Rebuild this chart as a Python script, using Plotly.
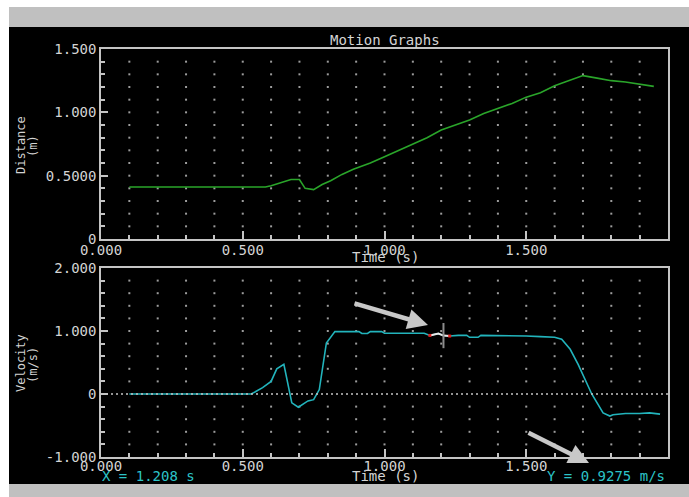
import numpy as np
import plotly.graph_objects as go

# ---- data -------------------------------------------------------------
dist_t = [0.10, 0.15, 0.20, 0.25, 0.30, 0.35, 0.40, 0.45, 0.50, 0.55, 0.58,
          0.60, 0.63, 0.67, 0.70, 0.72, 0.75, 0.78, 0.81, 0.85, 0.89, 0.95,
          1.00, 1.05, 1.10, 1.15, 1.20, 1.25, 1.30, 1.35, 1.40, 1.45, 1.50,
          1.55, 1.60, 1.65, 1.70, 1.75, 1.80, 1.85, 1.90, 1.95]
dist_m = [0.41, 0.41, 0.41, 0.41, 0.41, 0.41, 0.41, 0.41, 0.41, 0.41, 0.41,
          0.42, 0.44, 0.47, 0.47, 0.40, 0.39, 0.43, 0.46, 0.51, 0.55, 0.60,
          0.65, 0.70, 0.75, 0.80, 0.86, 0.90, 0.94, 0.99, 1.03, 1.07, 1.12,
          1.155, 1.21, 1.25, 1.29, 1.27, 1.25, 1.24, 1.22, 1.205]

vel_t = [0.10, 0.15, 0.20, 0.25, 0.30, 0.35, 0.40, 0.45, 0.50, 0.53,
         0.57, 0.60, 0.62, 0.645, 0.673, 0.696, 0.73, 0.75, 0.77, 0.795,
         0.825, 0.91, 0.92, 0.94, 0.95, 0.99, 1.00, 1.14, 1.16, 1.19,
         1.208, 1.23, 1.26, 1.29, 1.30, 1.33, 1.34, 1.38, 1.45, 1.50,
         1.55, 1.60, 1.625, 1.655, 1.683, 1.707, 1.731, 1.771, 1.795,
         1.806, 1.85, 1.90, 1.935, 1.972]
vel_ms = [0.0, 0.0, 0.0, 0.0, 0.0, 0.0, 0.0, 0.0, 0.0, 0.0,
          0.10, 0.20, 0.40, 0.47, -0.14, -0.21, -0.11, -0.09, 0.07, 0.81,
          0.99, 0.99, 0.96, 0.96, 0.99, 0.99, 0.965, 0.965, 0.93, 0.96,
          0.9275, 0.92, 0.93, 0.93, 0.90, 0.90, 0.93, 0.93, 0.92, 0.92,
          0.91, 0.90, 0.87, 0.71, 0.47, 0.23, 0.00, -0.30, -0.35,
          -0.33, -0.31, -0.31, -0.30, -0.32]

# cursor readout
cursor_t = 1.208
cursor_v = 0.9275

x_ticks = [0.0, 0.5, 1.0, 1.5, 2.0]
x_tick_labels = ["0.000", "0.500", "1.000", "1.500", "2.000"]
dist_ticks = [0.0, 0.5, 1.0, 1.5]
dist_tick_labels = ["0", "0.5000", "1.000", "1.500"]
vel_ticks = [-1.0, 0.0, 1.0, 2.0]
vel_tick_labels = ["-1.000", "0", "1.000", "2.000"]

# ---- geometry helpers (pixel -> paper fractions) ----------------------
W, H = 689, 497


def px(x):
    return x / W


def py(y):
    return 1 - y / H


FONT = "DejaVu Sans Mono"
FG = "#d4d4d4"
AXC = "#c4c4c4"
GREEN = "#2aa52a"
CYAN = "#22b4bc"
CYAN_TXT = "#2cc4c8"
GREY_BAR = "#c0c0c0"

fig = go.Figure()

# dotted grid points at every minor division
gx = np.round(np.arange(0.1, 1.95, 0.1), 3)
gy1 = np.round(np.arange(0.1, 1.45, 0.1), 3)
gy2 = np.round(np.concatenate([np.arange(-0.8, -0.05, 0.2), np.arange(0.2, 1.95, 0.2)]), 3)
X1, Y1 = np.meshgrid(gx, gy1)
X2, Y2 = np.meshgrid(gx, gy2)
dot_style = dict(symbol="square", size=2, color="#9c9c9c", line=dict(width=0))
fig.add_trace(go.Scatter(x=X1.ravel(), y=Y1.ravel(), mode="markers", marker=dot_style,
                         hoverinfo="skip", xaxis="x", yaxis="y"))
fig.add_trace(go.Scatter(x=X2.ravel(), y=Y2.ravel(), mode="markers", marker=dot_style,
                         hoverinfo="skip", xaxis="x2", yaxis="y2"))

# distance curve
fig.add_trace(go.Scatter(x=dist_t, y=dist_m, mode="lines",
                         line=dict(color=GREEN, width=1.6),
                         hoverinfo="skip", xaxis="x", yaxis="y"))

# velocity curve
fig.add_trace(go.Scatter(x=vel_t, y=vel_ms, mode="lines",
                         line=dict(color=CYAN, width=1.6),
                         hoverinfo="skip", xaxis="x2", yaxis="y2"))

# highlighted samples around the cursor
vt = np.array(vel_t)
vv = np.array(vel_ms)
win = (vt >= cursor_t - 0.05) & (vt <= cursor_t + 0.05)
fig.add_trace(go.Scatter(x=vt[win], y=vv[win], mode="lines",
                         line=dict(color="#e8e8e8", width=2),
                         hoverinfo="skip", xaxis="x2", yaxis="y2"))
fig.add_trace(go.Scatter(x=[vt[win][0], vt[win][-1]], y=[vv[win][0], vv[win][-1]], mode="markers",
                         marker=dict(symbol="square", size=3, color="#e02020", line=dict(width=0)),
                         hoverinfo="skip", xaxis="x2", yaxis="y2"))

shapes = [
    # window frame: black screen with grey bars
    dict(type="rect", xref="paper", yref="paper", x0=px(9), x1=1, y0=py(484), y1=py(27),
         fillcolor="black", line=dict(width=0), layer="below"),
    dict(type="rect", xref="paper", yref="paper", x0=px(9), x1=1, y0=py(27), y1=py(7),
         fillcolor=GREY_BAR, line=dict(width=0), layer="below"),
    dict(type="rect", xref="paper", yref="paper", x0=px(9), x1=1, y0=0, y1=py(484),
         fillcolor=GREY_BAR, line=dict(width=0), layer="below"),
    # zero line of the velocity plot
    dict(type="line", xref="x2", yref="y2", x0=0, x1=2, y0=0, y1=0,
         line=dict(color=AXC, width=1.5, dash="2px,3px")),
    # cursor
    dict(type="line", xref="x2", yref="y2", x0=cursor_t, x1=cursor_t,
         y0=cursor_v - 0.2, y1=cursor_v + 0.2,
         line=dict(color="#8c8c8c", width=2)),
]

tick_font = dict(family=FONT, size=14, color=FG)


def xaxis_cfg(anchor, standoff):
    return dict(domain=[px(101), px(668)], range=[0, 2], anchor=anchor,
                automargin=False,
                tickmode="array", tickvals=x_ticks, ticktext=x_tick_labels,
                ticks="inside", ticklen=8, tickwidth=1.5, tickcolor=AXC,
                ticklabelstandoff=standoff,
                minor=dict(dtick=0.1, tick0=0, ticks="inside", ticklen=4,
                           tickwidth=1.5, tickcolor=AXC, showgrid=False),
                showgrid=False, zeroline=False, showline=True, linecolor=AXC,
                linewidth=1.5, mirror=True, tickfont=tick_font)


def yaxis_cfg(anchor, dom, rng, vals, texts, minor_step):
    return dict(domain=dom, range=rng, anchor=anchor,
                automargin=False,
                tickmode="array", tickvals=vals, ticktext=texts,
                ticks="inside", ticklen=7, tickwidth=1.5, tickcolor=AXC,
                minor=dict(dtick=minor_step, tick0=0, ticks="inside", ticklen=4,
                           tickwidth=1.5, tickcolor=AXC, showgrid=False),
                showgrid=False, zeroline=False, showline=True, linecolor=AXC,
                linewidth=1.5, mirror=True, tickfont=tick_font)


def label(text, x, y, size=14, color=FG, angle=0, xanchor="center"):
    return dict(text=text, xref="paper", yref="paper", x=px(x), y=py(y),
                xanchor=xanchor, yanchor="middle", textangle=angle,
                showarrow=False, font=dict(family=FONT, size=size, color=color))


annotations = [
    label("Motion Graphs", 385, 40),
    label("Time (s)", 385, 257),
    label("Time (s)", 385, 476),
    label("Distance", 21, 145, size=12, angle=-90),
    label("(m)", 33, 146, size=12, angle=-90),
    label("Velocity", 21, 363, size=12, angle=-90),
    label("(m/s)", 33, 365, size=12, angle=-90),
    label(f"X = {cursor_t:.3f} s", 100, 476, color=CYAN_TXT, xanchor="left"),
    label(f"Y = {cursor_v:.4f} m/s", 667, 476, color=CYAN_TXT, xanchor="right"),
    # pointer arrows
    dict(text="", xref="paper", yref="paper", x=px(428), y=py(325), ax=-75, ay=-22,
         showarrow=True, arrowhead=2, arrowsize=0.9, arrowwidth=4.5, arrowcolor="#c8c8c8"),
    dict(text="", xref="paper", yref="paper", x=px(589), y=py(463), ax=-62, ay=-31,
         showarrow=True, arrowhead=2, arrowsize=0.9, arrowwidth=4.5, arrowcolor="#c8c8c8"),
]

fig.update_layout(
    width=W, height=H,
    margin=dict(l=0, r=0, t=0, b=0, pad=0),
    paper_bgcolor="white",
    plot_bgcolor="black",
    showlegend=False,
    xaxis=xaxis_cfg("y", -3),
    yaxis=yaxis_cfg("x", [py(239), py(49)], [0, 1.5], dist_ticks, dist_tick_labels, 0.1),
    xaxis2=xaxis_cfg("y2", -5),
    yaxis2=yaxis_cfg("x2", [py(457), py(268)], [-1, 2], vel_ticks, vel_tick_labels, 0.2),
    shapes=shapes,
    annotations=annotations,
)

fig.write_html("out.html")
